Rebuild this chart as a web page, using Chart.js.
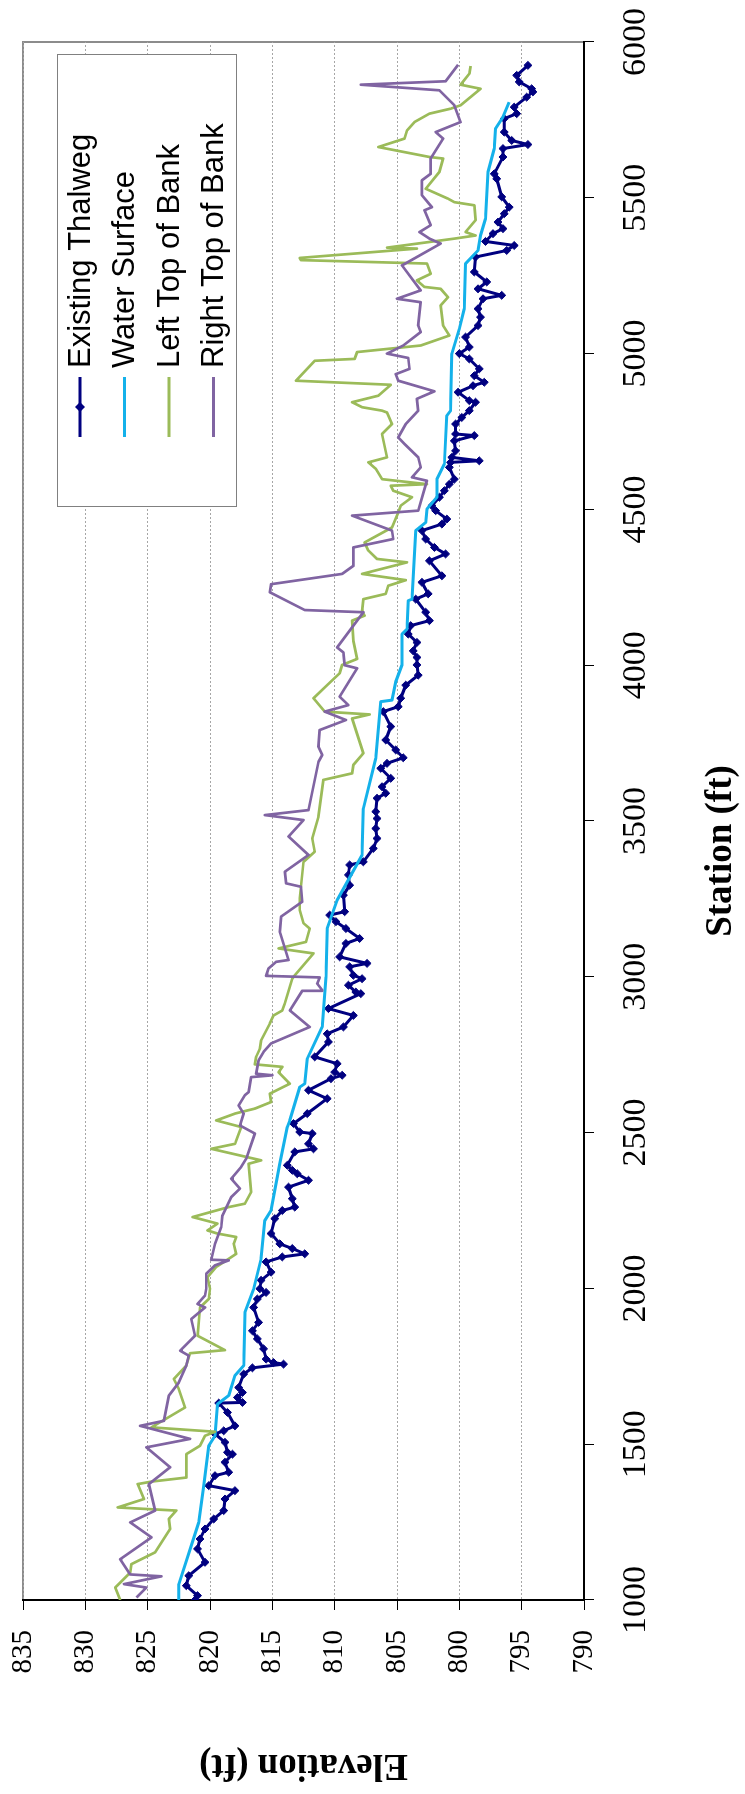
<!DOCTYPE html>
<html>
<head>
<meta charset="utf-8">
<script src="https://cdn.jsdelivr.net/npm/chart.js@4.4.1/dist/chart.umd.min.js"></script>
<style>
  html, body { margin: 0; padding: 0; background: #fff; width: 745px; height: 1794px; overflow: hidden; }
  /* chart is drawn landscape, then turned a quarter turn counter-clockwise */
  #wrap {
    position: absolute; left: 0; top: 0;
    width: 1794px; height: 745px;
    transform-origin: 0 0;
    transform: translate(0, 1794px) rotate(-90deg);
  }
</style>
</head>
<body>
<div id="wrap"><canvas id="profileChart" width="1794" height="745"></canvas></div>
<script>
// Station ticks / elevation ticks
const stationTicks = [1000, 1500, 2000, 2500, 3000, 3500, 4000, 4500, 5000, 5500, 6000];
const elevationTicks = [790, 795, 800, 805, 810, 815, 820, 825, 830, 835];

// Existing Thalweg (station descending)
const thalwegStation = [
  5925, 5893, 5872, 5850, 5840, 5823, 5791, 5770, 5754, 5711, 5684, 5671, 5658, 5631, 5577, 5561,
  5503, 5470, 5449, 5422, 5401, 5385, 5360, 5347, 5331, 5310, 5262, 5230, 5208, 5187, 5176, 5144,
  5117, 5090, 5053, 5021, 5000, 4983, 4951, 4929, 4908, 4897, 4876, 4849, 4844, 4817, 4795, 4774,
  4742, 4737, 4720, 4688, 4667, 4656, 4651, 4635, 4597, 4581, 4560, 4539, 4512, 4496, 4469, 4453,
  4432, 4405, 4378, 4357, 4335, 4287, 4266, 4229, 4212, 4170, 4143, 4127, 4100, 4073, 4046, 4025,
  4001, 3968, 3936, 3894, 3867, 3851, 3803, 3760, 3728, 3703, 3685, 3669, 3637, 3610, 3589, 3573,
  3530, 3508, 3476, 3444, 3412, 3369, 3359, 3327, 3294, 3262, 3209, 3198, 3177, 3155, 3123, 3107,
  3064, 3043, 3032, 3005, 2994, 2973, 2951, 2946, 2898, 2876, 2839, 2817, 2791, 2743, 2721, 2694,
  2684, 2673, 2636, 2609, 2561, 2529, 2502, 2497, 2464, 2448, 2438, 2395, 2379, 2368, 2347, 2325,
  2288, 2261, 2250, 2224, 2176, 2143, 2128, 2111, 2101, 2085, 2052, 2026, 1999, 1987, 1966, 1939,
  1891, 1864, 1838, 1806, 1773, 1762, 1757, 1745, 1725, 1682, 1666, 1650, 1634, 1632, 1602, 1559,
  1543, 1533, 1506, 1474, 1468, 1442, 1410, 1399, 1367, 1351, 1324, 1287, 1260, 1228, 1196, 1164,
  1121, 1078, 1046, 1014, 1000
];
const thalwegElev = [
  794.5, 795.4, 795.2, 794.2, 794.1, 794.6, 795.6, 795.4, 796.4, 796.4, 795.8, 794.5, 796.5, 796.5, 797.2, 797.0,
  796.6, 796.0, 796.4, 796.9, 796.5, 797.3, 797.9, 795.6, 796.2, 798.7, 798.8, 797.8, 798.5, 796.6, 798.1, 798.5,
  798.3, 798.5, 799.5, 799.2, 800.0, 799.2, 798.4, 798.8, 798.0, 798.9, 800.1, 799.2, 798.7, 799.2, 799.8, 800.3,
  800.3, 798.8, 800.4, 800.3, 800.6, 798.4, 800.7, 800.8, 800.4, 800.8, 801.2, 801.6, 802.2, 801.9, 801.0, 801.4,
  803.0, 802.7, 802.0, 801.1, 802.4, 801.4, 803.0, 802.5, 803.5, 802.7, 802.4, 803.9, 804.1, 803.4, 803.7, 803.4,
  803.4, 803.3, 804.3, 804.7, 804.9, 806.1, 805.5, 805.9, 805.1, 804.5, 805.8, 806.3, 805.5, 806.2, 805.9, 806.6,
  806.7, 806.6, 806.7, 806.6, 806.9, 807.7, 808.8, 808.9, 808.8, 809.3, 809.2, 810.4, 809.9, 809.1, 808.0, 809.1,
  809.6, 807.4, 808.8, 808.5, 807.8, 808.9, 808.3, 807.9, 810.5, 808.5, 809.3, 810.6, 810.5, 811.6, 809.8, 810.0,
  809.4, 810.3, 812.1, 810.6, 812.2, 813.3, 812.8, 811.8, 812.1, 811.7, 813.2, 813.8, 813.4, 813.0, 812.1, 813.7,
  813.4, 813.2, 814.2, 814.8, 815.1, 814.4, 813.4, 812.4, 814.2, 815.5, 815.1, 815.9, 816.0, 815.5, 816.2, 816.5,
  816.1, 816.6, 816.2, 815.7, 815.5, 814.9, 814.1, 816.6, 817.3, 817.7, 817.4, 817.8, 817.4, 819.3, 818.6, 818.0,
  818.9, 819.6, 818.8, 818.6, 818.2, 818.8, 818.5, 819.6, 820.1, 818.0, 818.8, 818.9, 819.7, 820.4, 820.8, 821.0,
  820.4, 821.7, 821.9, 821.0, 821.2
];

// Water Surface
const waterStation = [
  5807, 5759, 5722, 5658, 5583, 5433, 5379, 5331, 5289, 5144, 5080, 5000, 4817, 4801, 4646, 4597,
  4539, 4501, 4458, 4432, 4212, 4207, 4116, 4100, 4001, 3947, 3888, 3883, 3701, 3540, 3391, 3246,
  3155, 3000, 2839, 2737, 2657, 2646, 2539, 2518, 2400, 2250, 2218, 2095, 1998, 1923, 1752, 1720,
  1656, 1629, 1527, 1495, 1367, 1249, 1051, 1000
];
const waterElev = [
  796.0, 796.5, 797.1, 797.2, 797.7, 797.9, 798.3, 798.5, 799.5, 799.6, 800.0, 800.6, 800.7, 801.0, 801.2, 801.8,
  801.8, 802.6, 802.7, 803.5, 803.8, 804.1, 804.2, 804.6, 804.6, 805.1, 805.4, 806.3, 806.7, 807.7, 807.8, 809.8,
  810.6, 810.7, 811.0, 812.2, 812.4, 812.8, 813.6, 813.8, 814.4, 815.1, 815.6, 815.9, 816.5, 817.2, 817.3, 818.0,
  818.5, 819.4, 819.6, 820.1, 820.5, 820.9, 822.5, 822.5
];

// Left Top of Bank
const leftStation = [
  5923, 5898, 5863, 5850, 5797, 5786, 5770, 5743, 5716, 5690, 5663, 5631, 5626, 5583, 5529, 5497,
  5486, 5476, 5428, 5390, 5379, 5369, 5340, 5337, 5307, 5300, 5289, 5256, 5235, 5214, 5208, 5181,
  5155, 5090, 5058, 5026, 5005, 4983, 4977, 4913, 4900, 4865, 4844, 4828, 4817, 4811, 4774, 4742,
  4667, 4651, 4630, 4597, 4581, 4576, 4560, 4539, 4512, 4490, 4442, 4394, 4368, 4341, 4330, 4293,
  4273, 4255, 4229, 4212, 4175, 4159, 4143, 4078, 4020, 4001, 3974, 3936, 3894, 3851, 3842, 3829,
  3717, 3680, 3653, 3632, 3514, 3444, 3401, 3369, 3252, 3214, 3172, 3155, 3112, 3091, 3075, 3000,
  2994, 2914, 2892, 2876, 2850, 2796, 2769, 2743, 2719, 2711, 2694, 2657, 2625, 2598, 2577, 2561,
  2539, 2518, 2464, 2448, 2411, 2400, 2309, 2272, 2261, 2229, 2208, 2186, 2176, 2165, 2143, 2111,
  2095, 2069, 2036, 1999, 1966, 1939, 1848, 1802, 1792, 1752, 1709, 1677, 1618, 1554, 1540, 1527,
  1495, 1468, 1393, 1380, 1372, 1324, 1297, 1287, 1260, 1228, 1153, 1115, 1088, 1040, 1000
];
const leftElev = [
  799.1, 799.2, 799.9, 798.3, 799.9, 800.7, 802.4, 803.6, 804.2, 804.4, 806.5, 802.4, 801.3, 801.6, 802.7, 800.9,
  800.4, 798.8, 798.7, 799.5, 798.7, 800.4, 805.8, 803.4, 812.8, 812.7, 802.6, 802.3, 803.4, 802.8, 801.5, 800.9,
  801.5, 801.3, 800.8, 803.1, 808.2, 808.4, 811.6, 813.1, 805.5, 806.5, 808.6, 807.8, 806.2, 805.8, 805.4, 806.2,
  805.8, 807.3, 806.7, 806.2, 802.6, 805.5, 805.3, 803.8, 804.7, 804.9, 805.4, 807.6, 807.3, 806.6, 804.2, 807.8,
  804.3, 805.7, 805.9, 807.7, 807.8, 807.6, 808.6, 808.5, 808.2, 809.4, 809.6, 810.6, 811.7, 810.8, 807.2, 808.6,
  807.7, 808.5, 808.6, 810.9, 811.3, 811.8, 811.6, 812.5, 812.8, 812.8, 812.5, 812.0, 812.3, 814.5, 811.7, 813.3,
  813.4, 814.0, 814.2, 814.9, 815.2, 815.9, 816.0, 816.3, 816.4, 814.2, 814.5, 813.6, 815.2, 815.1, 816.4, 818.0,
  819.5, 817.5, 818.0, 819.9, 815.9, 816.9, 816.7, 817.2, 818.5, 821.4, 819.4, 820.2, 819.4, 817.9, 818.1, 817.9,
  818.5, 819.5, 820.2, 820.0, 820.1, 820.8, 821.0, 818.8, 821.6, 821.9, 822.9, 822.5, 822.0, 824.7, 819.6, 820.4,
  820.8, 821.9, 821.9, 824.7, 825.8, 825.3, 827.4, 822.7, 823.3, 823.2, 824.4, 826.3, 826.4, 827.6, 827.2
];

// Right Top of Bank
const rightStation = [
  5927, 5874, 5863, 5845, 5829, 5797, 5743, 5711, 5690, 5626, 5577, 5556, 5508, 5470, 5460, 5412,
  5390, 5369, 5353, 5283, 5203, 5176, 5165, 5090, 5069, 5026, 5000, 4986, 4951, 4934, 4913, 4879,
  4855, 4817, 4774, 4731, 4710, 4667, 4635, 4603, 4592, 4496, 4480, 4432, 4405, 4378, 4319, 4293,
  4260, 4234, 4177, 4170, 4057, 4041, 4000, 3990, 3899, 3872, 3851, 3824, 3792, 3738, 3712, 3690,
  3535, 3519, 3503, 3450, 3391, 3337, 3300, 3289, 3241, 3193, 3145, 3054, 3048, 3027, 3003, 2998,
  2978, 2957, 2955, 2892, 2839, 2786, 2759, 2732, 2689, 2684, 2678, 2630, 2620, 2587, 2561, 2523,
  2497, 2416, 2390, 2352, 2320, 2293, 2234, 2197, 2143, 2092, 2090, 2074, 2047, 1999, 1977, 1950,
  1939, 1902, 1848, 1800, 1784, 1752, 1698, 1656, 1575, 1559, 1517, 1490, 1426, 1372, 1287, 1249,
  1201, 1131, 1082, 1076, 1051, 1040, 1008
];
const rightElev = [
  800.1, 801.1, 807.9, 801.6, 801.2, 800.4, 799.9, 801.9, 801.3, 802.3, 802.3, 803.0, 803.0, 802.2, 802.8, 802.3,
  803.2, 802.4, 801.5, 804.6, 803.1, 805.0, 803.1, 803.3, 803.1, 804.5, 805.8, 804.1, 804.0, 805.1, 804.9, 802.0,
  803.4, 803.3, 804.3, 804.9, 804.4, 803.3, 803.1, 803.8, 802.6, 803.3, 808.6, 805.4, 805.3, 808.5, 808.5, 809.4,
  815.1, 815.2, 812.4, 807.7, 809.8, 809.3, 809.2, 808.2, 809.6, 808.9, 810.8, 809.1, 811.2, 811.3, 811.0, 811.3,
  812.1, 815.6, 812.5, 813.7, 812.1, 814.0, 813.9, 812.7, 812.6, 814.3, 814.4, 813.7, 814.7, 815.3, 815.5, 811.2,
  811.4, 811.0, 812.6, 813.6, 812.0, 815.1, 815.7, 816.1, 816.3, 815.0, 816.7, 816.9, 817.2, 817.7, 817.3, 817.6,
  816.4, 817.1, 817.5, 818.3, 817.6, 818.3, 819.0, 819.1, 819.6, 819.9, 818.5, 819.6, 820.3, 820.3, 820.4, 821.0,
  820.4, 821.5, 821.2, 822.4, 821.7, 821.9, 822.5, 823.3, 823.7, 825.6, 821.6, 825.1, 823.2, 824.9, 824.4, 826.4,
  824.7, 827.2, 826.4, 823.9, 826.9, 825.1, 825.9
];

function toPoints(xs, ys) {
    return xs.map((x, i) => ({ x: x, y: ys[i] }));
}

const serif = '"Liberation Serif", "Times New Roman", serif';
Chart.defaults.font.family = serif;
Chart.defaults.color = '#000';

// Gray frame round the plot area, drawn under the axes
const plotFrame = {
    id: 'plotFrame',
    beforeDraw(chart) {
        const a = chart.chartArea;
        const ctx = chart.ctx;
        ctx.save();
        ctx.strokeStyle = '#8c8c8c';
        ctx.lineWidth = 2;
        ctx.strokeRect(a.left, a.top, a.right - a.left, a.bottom - a.top);
        ctx.restore();
    }
};

// Station title sits a little left of the axis centre, as in the original
const stationTitle = {
    id: 'stationTitle',
    afterDraw(chart) {
        const a = chart.chartArea;
        const ctx = chart.ctx;
        ctx.save();
        ctx.font = 'bold 37px ' + serif;
        ctx.fillStyle = '#000';
        ctx.textAlign = 'center';
        ctx.textBaseline = 'middle';
        ctx.fillText('Station (ft)', (a.left + a.right) / 2 - 30, a.bottom + 137);
        ctx.restore();
    }
};

// Boxed legend inside the plot, top right
const boxLegend = {
    id: 'boxLegend',
    afterDraw(chart) {
        const a = chart.chartArea;
        const ctx = chart.ctx;
        const w = 452, h = 179;
        const x0 = a.right - 13 - w;
        const y0 = a.top + 34;
        ctx.save();
        ctx.fillStyle = '#fff';
        ctx.fillRect(x0, y0, w, h);
        ctx.strokeStyle = '#808080';
        ctx.lineWidth = 1;
        ctx.strokeRect(x0 + 0.5, y0 + 0.5, w, h);
        ctx.font = '31px "Liberation Sans", Arial, sans-serif';
        ctx.textBaseline = 'middle';
        ctx.textAlign = 'left';
        chart.data.datasets.forEach((ds, i) => {
            const y = y0 + 23 + i * 44.5;
            const lx = x0 + 70;
            ctx.strokeStyle = ds.borderColor;
            ctx.lineWidth = 3;
            ctx.beginPath();
            ctx.moveTo(lx, y);
            ctx.lineTo(lx + 60, y);
            ctx.stroke();
            if (ds.pointRadius > 0) {
                const r = 5;
                ctx.fillStyle = ds.borderColor;
                ctx.beginPath();
                ctx.moveTo(lx + 30, y - r);
                ctx.lineTo(lx + 30 + r, y);
                ctx.lineTo(lx + 30, y + r);
                ctx.lineTo(lx + 30 - r, y);
                ctx.closePath();
                ctx.fill();
            }
            ctx.fillStyle = '#000';
            ctx.fillText(ds.label, lx + 69, y + 1);
        });
        ctx.restore();
    }
};

// drop the label overflow padding so the layout padding alone places the plot
function noPad(scale) {
    scale.paddingTop = 0;
    scale.paddingBottom = 0;
    scale.paddingLeft = 0;
    scale.paddingRight = 0;
}

const ctx = document.getElementById('profileChart').getContext('2d');
new Chart(ctx, {
    type: 'scatter',
    data: {
        datasets: [
            {
                label: 'Existing Thalweg',
                data: toPoints(thalwegStation, thalwegElev),
                showLine: true,
                borderColor: '#000080',
                backgroundColor: '#000080',
                borderWidth: 3,
                pointStyle: 'rectRot',
                pointRadius: 4,
                pointBorderWidth: 1,
                order: 4
            },
            {
                label: 'Water Surface',
                data: toPoints(waterStation, waterElev),
                showLine: true,
                borderColor: '#14B1EA',
                backgroundColor: '#14B1EA',
                borderWidth: 3,
                pointRadius: 0,
                order: 3
            },
            {
                label: 'Left Top of Bank',
                data: toPoints(leftStation, leftElev),
                showLine: true,
                borderColor: '#9BBB59',
                backgroundColor: '#9BBB59',
                borderWidth: 2.7,
                pointRadius: 0,
                order: 2
            },
            {
                label: 'Right Top of Bank',
                data: toPoints(rightStation, rightElev),
                showLine: true,
                borderColor: '#8064A2',
                backgroundColor: '#8064A2',
                borderWidth: 2.7,
                pointRadius: 0,
                order: 1
            }
        ]
    },
    options: {
        responsive: false,
        animation: false,
        elements: { line: { borderJoinStyle: 'round', tension: 0 } },
        layout: { padding: { top: 23, right: 42, left: 0, bottom: 0 } },
        plugins: {
            legend: { display: false },
            tooltip: { enabled: false }
        },
        scales: {
            x: {
                type: 'linear',
                min: stationTicks[0],
                max: stationTicks[stationTicks.length - 1],
                afterBuildTicks: (scale) => { scale.ticks = stationTicks.map(v => ({ value: v })); },
                afterFit: (scale) => { scale.height = 161; noPad(scale); },
                grid: { drawOnChartArea: false, drawTicks: true, tickLength: 10, tickColor: '#000', tickWidth: 1 },
                border: { color: '#000', width: 2 },
                ticks: {
                    color: '#000',
                    padding: 22,
                    maxRotation: 0,
                    autoSkip: false,
                    font: { family: serif, size: 34 },
                    callback: (v) => String(v)
                },
                title: { display: false, text: 'Station (ft)' }
            },
            y: {
                type: 'linear',
                min: elevationTicks[0],
                max: elevationTicks[elevationTicks.length - 1],
                afterBuildTicks: (scale) => { scale.ticks = elevationTicks.map(v => ({ value: v })); },
                afterFit: (scale) => { scale.width = 194; noPad(scale); },
                grid: { color: '#a6a6a6', lineWidth: 1, drawTicks: true, tickLength: 10, tickColor: '#000', tickWidth: 1 },
                border: { color: '#000', width: 2, dash: [2, 2] },
                ticks: {
                    color: '#000',
                    padding: 20,
                    autoSkip: false,
                    font: { family: serif, size: 29 },
                    callback: (v) => String(v)
                },
                title: {
                    display: true,
                    text: 'Elevation (ft)',
                    color: '#000',
                    padding: { top: 7, bottom: 0 },
                    font: { family: serif, size: 37, weight: 'bold' }
                }
            }
        }
    },
    plugins: [plotFrame, stationTitle, boxLegend]
});
</script>
</body>
</html>
